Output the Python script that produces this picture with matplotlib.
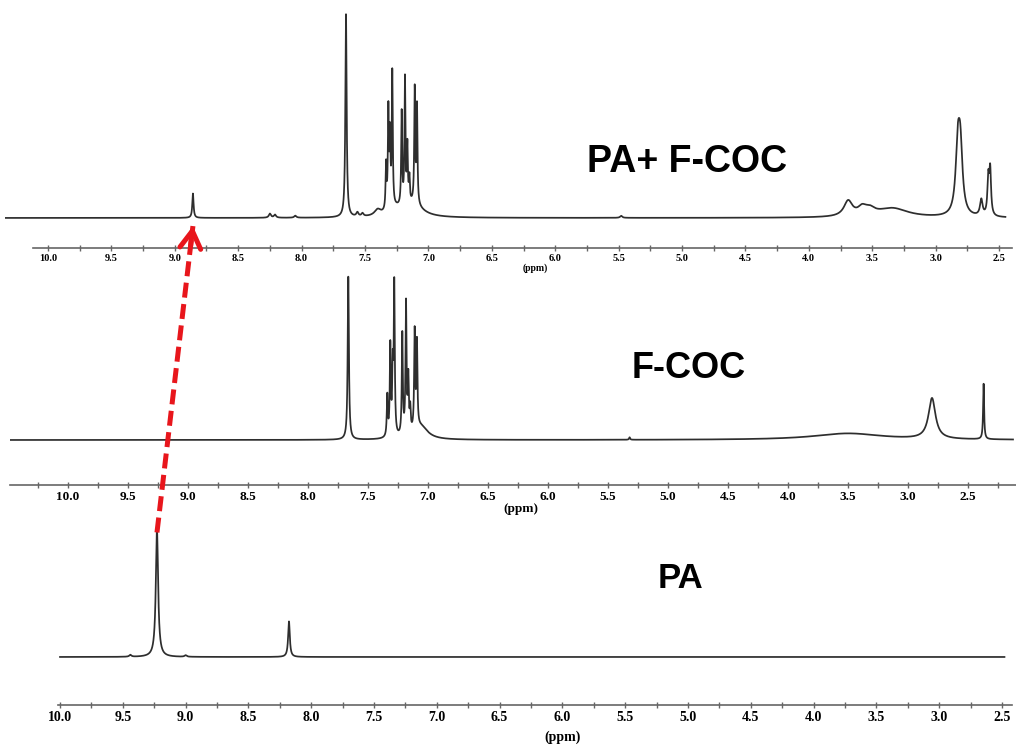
import numpy as np
import matplotlib.pyplot as plt
from matplotlib.patches import ConnectionPatch
from matplotlib.ticker import FixedLocator, FormatStrFormatter

# peak lists: shift (ppm), height (tallest peak = 1), half width (ppm)
mix_ppm = [8.857, 8.25, 8.21, 8.05, 7.65, 7.56, 7.52, 7.40, 7.334, 7.316, 7.303, 7.285,
           7.211, 7.185, 7.166, 7.150, 7.108, 7.090, 7.12, 7.26, 5.48, 3.69, 3.58, 3.52,
           3.34, 2.825, 2.805, 2.64, 2.585, 2.57]
mix_height = [0.12, 0.02, 0.015, 0.01, 1.0, 0.02, 0.015, 0.03, 0.22, 0.48, 0.34, 0.66,
              0.46, 0.62, 0.28, 0.12, 0.56, 0.48, 0.06, 0.03, 0.01, 0.075, 0.035, 0.03,
              0.045, 0.31, 0.30, 0.08, 0.18, 0.22]
mix_width = [0.006, 0.01, 0.01, 0.01, 0.006, 0.01, 0.01, 0.03, 0.0045, 0.0045, 0.0045, 0.0045,
             0.0045, 0.0045, 0.0045, 0.0045, 0.0045, 0.0045, 0.09, 0.06, 0.01, 0.04, 0.04, 0.05,
             0.15, 0.02, 0.02, 0.012, 0.008, 0.008]

coc_ppm = [7.664, 7.339, 7.314, 7.294, 7.281, 7.214, 7.183, 7.164, 7.148, 7.111, 7.092,
           7.06, 5.32, 3.50, 2.80, 2.37]
coc_height = [1.0, 0.25, 0.55, 0.39, 0.92, 0.62, 0.80, 0.33, 0.14, 0.60, 0.52,
              0.08, 0.015, 0.04, 0.25, 0.34]
coc_width = [0.006, 0.005, 0.005, 0.005, 0.005, 0.005, 0.005, 0.005, 0.005, 0.005, 0.005,
             0.07, 0.005, 0.35, 0.035, 0.005]

pa_ppm = [9.44, 9.228, 9.0, 8.177]
pa_height = [0.015, 1.0, 0.012, 0.28]
pa_width = [0.01, 0.011, 0.01, 0.008]

labels = ["PA+ F-COC", "F-COC", "PA"]


def spectrum(x, ppm, height, width):
    y = np.zeros_like(x)
    for p, h, w in zip(ppm, height, width):
        y += h * w**2 / ((x - p)**2 + w**2)
    return y


W, H = 1016, 747
fig = plt.figure(figsize=(W / 100, H / 100), dpi=100)


def panel(left, right, top, bottom, xlim, ylim, spine, size):
    ax = fig.add_axes([left / W, 1 - bottom / H, (right - left) / W, (bottom - top) / H])
    ax.patch.set_visible(False)
    ax.set_xlim(*xlim)
    ax.set_ylim(*ylim)
    for s in ["top", "left", "right"]:
        ax.spines[s].set_visible(False)
    ax.spines["bottom"].set_bounds(*spine)
    ax.spines["bottom"].set_color("#666666")
    ax.spines["bottom"].set_linewidth(1.2)
    ax.set_yticks([])
    hi, lo = spine
    major = np.arange(10.5, 2.0, -0.5)
    minor = np.arange(10.25, 2.0, -0.5)
    ax.xaxis.set_major_locator(FixedLocator([t for t in major if lo <= t <= hi]))
    ax.xaxis.set_minor_locator(FixedLocator([t for t in minor if lo <= t <= hi]))
    ax.xaxis.set_major_formatter(FormatStrFormatter("%.1f"))
    ax.tick_params(axis="x", which="both", direction="inout", color="#666666",
                   length=4, width=1, pad=2, labelsize=size)
    for t in ax.get_xticklabels():
        t.set_fontfamily("Liberation Serif")
        t.set_fontweight("bold")
    return ax


ax1 = panel(5, 1013, 8, 248, (10.339, 2.39), (-0.148, 1.034), (10.12, 2.40), 7.5)
ax2 = panel(10, 1016, 268, 485, (10.483, 2.10), (-0.276, 1.055), (10.48, 2.10), 9.5)
ax3 = panel(57, 1012, 518, 705, (10.024, 2.42), (-0.378, 1.094), (10.02, 2.42), 10)

line_kw = dict(color="#2e2e2e", lw=1.25)
x1 = np.linspace(10.339, 2.45, 30000)
ax1.plot(x1, spectrum(x1, mix_ppm, mix_height, mix_width), **line_kw)
x2 = np.linspace(10.483, 2.125, 30000)
ax2.plot(x2, spectrum(x2, coc_ppm, coc_height, coc_width), **line_kw)
x3 = np.linspace(10.0, 2.48, 30000)
ax3.plot(x3, spectrum(x3, pa_ppm, pa_height, pa_width), **line_kw)

for ax, xp, off, size in [(ax1, 6.16, -20, 7), (ax2, 6.23, -24, 9.5), (ax3, 6.0, -32, 10)]:
    ax.annotate("(ppm)", xy=(xp, 0), xycoords=("data", "axes fraction"),
                xytext=(0, off * 0.72), textcoords="offset points", ha="center",
                va="center", fontsize=size, fontweight="bold", family="Liberation Serif")

ax1.text(4.96, 0.276, labels[0], ha="center", va="center", fontsize=27,
         fontweight="bold", family="Liberation Sans")
ax2.text(4.83, 0.44, labels[1], ha="center", va="center", fontsize=26,
         fontweight="bold", family="Liberation Sans")
ax3.text(5.06, 0.62, labels[2], ha="center", va="center", fontsize=25,
         fontweight="bold", family="Liberation Sans")

# red dashed arrow from the PA peak up to the shifted peak in the mixture
tail = (pa_ppm[1], 0.98)
tip = (mix_ppm[0], -0.04)
red = "#e8161c"
line = ConnectionPatch(xyA=tail, coordsA=ax3.transData, xyB=tip, coordsB=ax1.transData,
                       color=red, lw=3.6, linestyle=(0, (3.0, 1.3)), capstyle="butt")
fig.add_artist(line)

p_tail = ax3.transData.transform(tail)
p_tip = ax1.transData.transform(tip)
d = (p_tip - p_tail) / np.hypot(*(p_tip - p_tail))
p_back = ax1.transData.inverted().transform(p_tip - 20 * d)
head = ConnectionPatch(xyA=tuple(p_back), coordsA=ax1.transData, xyB=tip,
                       coordsB=ax1.transData, arrowstyle="->,head_length=1.25,head_width=0.75",
                       mutation_scale=10, color=red, lw=3.6)
fig.add_artist(head)

fig.savefig("out.png", dpi=100, facecolor="white")
